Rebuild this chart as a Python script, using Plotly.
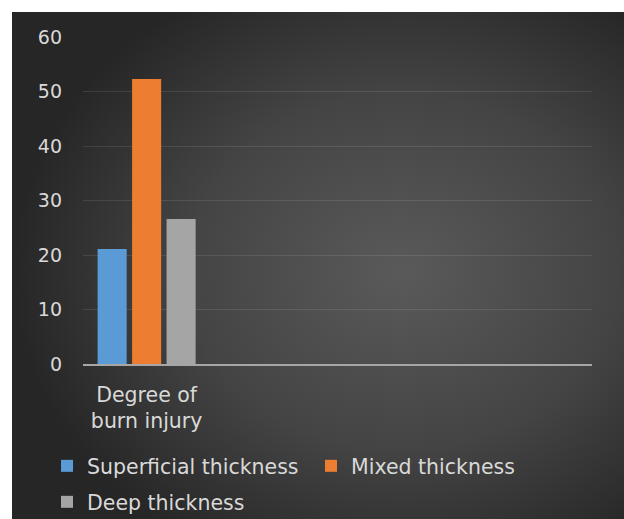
import base64
import plotly.graph_objects as go

# ---- data ----
categories = ["Degree of<br>burn injury", "c2", "c3", "c4"]
series_names = ["Superficial thickness", "Mixed thickness", "Deep thickness"]
superficial = [21.1, None, None, None]
mixed = [52.3, None, None, None]
deep = [26.6, None, None, None]
y_ticks = [0, 10, 20, 30, 40, 50, 60]

colors = ["#5b9bd5", "#ed7d31", "#a5a5a5"]

W, H = 624, 519
L, R, T, B = 83, 32, 37, 155
pw, ph = W - L - R, H - T - B


def px_x(x):
    return (x - L) / pw


def px_y(y):
    return (H - B - y) / ph


svg = """<svg xmlns='http://www.w3.org/2000/svg' width='640' height='520'>
<defs><radialGradient id='g' cx='62%' cy='50%' r='62%'>
<stop offset='0%' stop-color='#5a5a5a'/>
<stop offset='55%' stop-color='#444444'/>
<stop offset='100%' stop-color='#262626'/>
</radialGradient></defs>
<rect width='640' height='520' fill='url(#g)'/></svg>"""
src = "data:image/svg+xml;base64," + base64.b64encode(svg.encode()).decode()

legend_ids = ["legend", "legend2", "legend3"]
fig = go.Figure()
for name, vals, col, lg in zip(series_names, [superficial, mixed, deep], colors, legend_ids):
    fig.add_trace(go.Bar(x=categories, y=vals, name=name, legend=lg,
                         marker=dict(color=col, line=dict(width=0))))

font_family = "'DejaVu Sans', sans-serif"
txt = "#d9d9d9"


def leg(x_px, top_px):
    return dict(orientation="h", xref="container", yref="container",
                x=x_px / W, y=1 - top_px / H, xanchor="left", yanchor="top",
                font=dict(size=20.5, color=txt, family=font_family),
                bgcolor="rgba(0,0,0,0)", itemclick=False, itemdoubleclick=False)


fig.update_layout(
    width=W, height=H,
    margin=dict(l=L, r=R, t=T, b=B, autoexpand=False),
    paper_bgcolor="white",
    plot_bgcolor="rgba(0,0,0,0)",
    barmode="group",
    bargap=0.187,
    bargroupgap=0.157,
    font=dict(family=font_family, size=20, color=txt),
    images=[dict(source=src, xref="paper", yref="paper",
                 x=px_x(12), y=px_y(12), sizex=px_x(640) - px_x(12),
                 sizey=px_y(12) - px_y(532), xanchor="left", yanchor="top",
                 sizing="stretch", layer="below")],
    xaxis=dict(type="category", categoryorder="array", categoryarray=categories,
               range=[-0.5, 3.5], tickvals=[categories[0]], ticktext=[categories[0]],
               showgrid=False, showline=True, linecolor="#a6a6a6", linewidth=2,
               ticks="", ticklabelstandoff=11, zeroline=False,
               tickfont=dict(size=20.5, color=txt)),
    yaxis=dict(range=[0, 60], tickvals=y_ticks, showgrid=True,
               gridcolor="rgba(255,255,255,0.10)", gridwidth=1,
               zeroline=False, showline=False, ticks="",
               ticklabelstandoff=20, tickfont=dict(size=19, color=txt)),
    legend=leg(47, 446),
    legend2=leg(311, 446),
    legend3=leg(47, 482),
    showlegend=True,
)

fig.write_html("out.html")
